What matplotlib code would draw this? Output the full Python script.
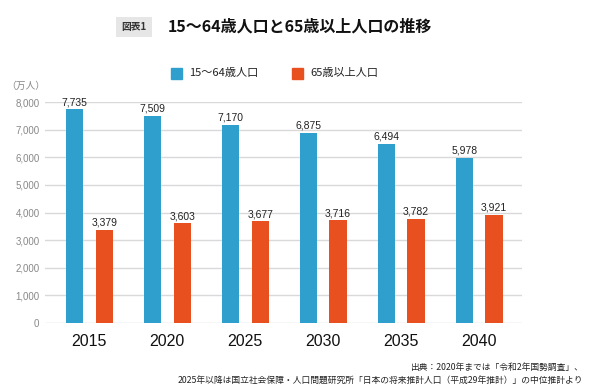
import numpy as np
import matplotlib
matplotlib.use("Agg")
import matplotlib.pyplot as plt

plt.rcParams['font.family'] = ['Noto Sans CJK JP', 'DejaVu Sans']

# データ
years = ["2015", "2020", "2025", "2030", "2035", "2040"]
pop_15_64 = [7735, 7509, 7170, 6875, 6494, 5978]
pop_65 = [3379, 3603, 3677, 3716, 3782, 3921]

blue = "#2F9FCE"
orange = "#E8501F"

fig = plt.figure(figsize=(5.9, 3.9), dpi=100)
ax = fig.add_axes([45/590, 1-323/390, 477/590, (323-102)/390])

x = np.arange(len(years))
w = 0.22
off = 0.19
ax.bar(x - off, pop_15_64, w, color=blue, zorder=3)
ax.bar(x + off, pop_65, w, color=orange, zorder=3)

for xi, v in zip(x, pop_15_64):
    ax.text(xi - off, v + 80, f"{v:,}", ha="center", va="bottom", fontsize=7.5, color="#222222", family="Liberation Sans")
for xi, v in zip(x, pop_65):
    ax.text(xi + off, v + 80, f"{v:,}", ha="center", va="bottom", fontsize=7.5, color="#222222", family="Liberation Sans")

ax.set_ylim(0, 8000)
ax.set_xlim(-0.57, 5.55)
ax.set_yticks(np.arange(0, 8001, 1000))
ax.set_yticklabels([f"{t:,}" for t in range(0, 8001, 1000)], fontsize=7, color="#888888", family="Liberation Sans")
ax.set_xticks(x)
ax.set_xticklabels(years, fontsize=11.5, color="#111111", family="Liberation Sans")
ax.tick_params(axis="both", length=0)
ax.tick_params(axis="y", pad=4)
ax.tick_params(axis="x", pad=8)
ax.grid(axis="y", color="#D9D9D9", linewidth=1, zorder=0)
for s in ax.spines.values():
    s.set_visible(False)
ax.set_axisbelow(True)

# タイトル
fig.text(134/590, 1-27/390, "図表1", fontsize=7, fontweight="bold", color="#333333",
         ha="center", va="center",
         bbox=dict(boxstyle="square,pad=0.55", facecolor="#E6E6E6", edgecolor="none"))
fig.text(168/590, 1-27/390, "15～64歳人口と65歳以上人口の推移", fontsize=11.5, fontweight="bold",
         color="#111111", ha="left", va="center")

# 凡例
fig.patches.append(plt.Rectangle((171/590, 1-79/390), 11/590, 11/390, color=blue, transform=fig.transFigure))
fig.text(189/590, 1-73/390, "15～64歳人口", fontsize=8, ha="left", va="center", color="#222222")
fig.patches.append(plt.Rectangle((292/590, 1-79/390), 11/590, 11/390, color=orange, transform=fig.transFigure))
fig.text(310/590, 1-73/390, "65歳以上人口", fontsize=8, ha="left", va="center", color="#222222")

fig.text(6/590, 1-86/390, "（万人）", fontsize=7, color="#888888", ha="left", va="center")

# 出典
fig.text(583/590, 1-367/390, "出典：2020年までは「令和2年国勢調査」、", fontsize=6.3, ha="right", va="center", color="#222222")
fig.text(583/590, 1-381/390, "2025年以降は国立社会保障・人口問題研究所「日本の将来推計人口（平成29年推計）」の中位推計より",
         fontsize=6.3, ha="right", va="center", color="#222222")

plt.savefig("out.png", dpi=100)
plt.close()
